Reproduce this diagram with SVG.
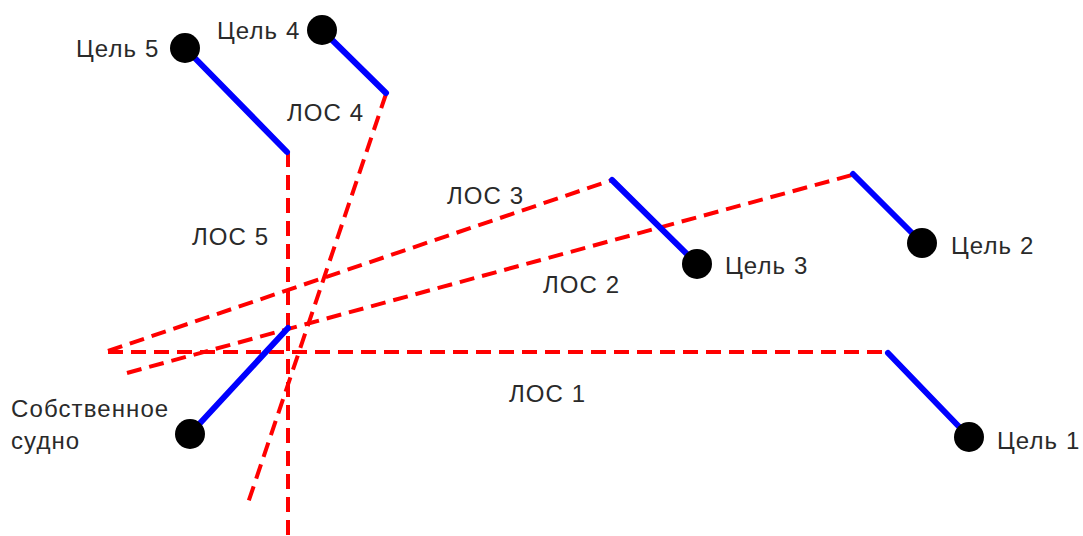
<svg xmlns="http://www.w3.org/2000/svg" width="1083" height="536" viewBox="0 0 1083 536">
<style>
.los{stroke:#ff0000;stroke-width:4;stroke-dasharray:15 8;fill:none}
.vel{stroke:#0000ff;stroke-width:6;stroke-linecap:round;fill:none}
.pt{fill:#000}
text{font-family:"Liberation Sans",Arial,sans-serif;font-size:24px;letter-spacing:1.1px;fill:#2a2a2a}
</style>
<rect width="1083" height="536" fill="#fff"/>
<g id="connectors">
<line class="los" x1="108" y1="352" x2="888" y2="352"/>
<line class="los" x1="127" y1="373" x2="852" y2="175"/>
<line class="los" x1="108" y1="351" x2="612" y2="180"/>
<line class="los" x1="386" y1="94" x2="248" y2="503"/>
<line class="los" x1="288" y1="152" x2="288" y2="536"/>
</g>
<g id="own">
<line class="vel" x1="190" y1="434" x2="288" y2="328"/>
<circle class="pt" cx="190" cy="434" r="15"/>
<text x="11" y="417">Собственное</text>
<text x="11" y="449">судно</text>
</g>
<g id="target1">
<line class="vel" x1="888" y1="353" x2="969" y2="437"/>
<circle class="pt" cx="969" cy="437" r="15"/>
<text x="997" y="449">Цель 1</text>
</g>
<g id="target2">
<line class="vel" x1="853" y1="174" x2="922" y2="243"/>
<circle class="pt" cx="922" cy="243" r="15"/>
<text x="951" y="254">Цель 2</text>
</g>
<g id="target3">
<line class="vel" x1="612" y1="180" x2="697" y2="264"/>
<circle class="pt" cx="697" cy="264" r="15"/>
<text x="725" y="274">Цель 3</text>
</g>
<g id="target4">
<line class="vel" x1="322" y1="30" x2="386" y2="93"/>
<circle class="pt" cx="322" cy="30" r="15"/>
<text x="217" y="39">Цель 4</text>
</g>
<g id="target5">
<line class="vel" x1="185" y1="48" x2="287" y2="152"/>
<circle class="pt" cx="185" cy="48" r="15"/>
<text x="76" y="57">Цель 5</text>
</g>
<g id="labels">
<text x="287" y="121">ЛОС 4</text>
<text x="447" y="204">ЛОС 3</text>
<text x="192" y="245">ЛОС 5</text>
<text x="543" y="293">ЛОС 2</text>
<text x="509" y="402">ЛОС 1</text>
</g>
</svg>
